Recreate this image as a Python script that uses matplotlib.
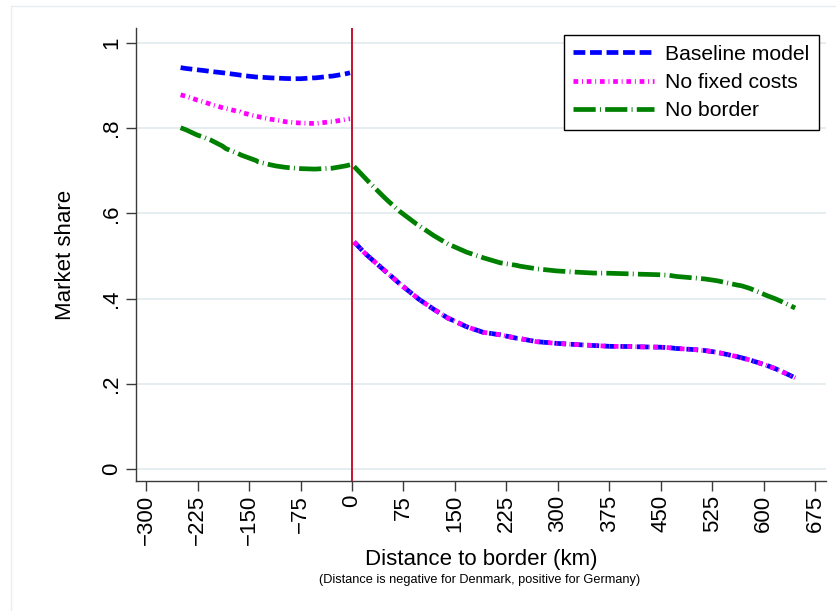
import matplotlib
matplotlib.use("Agg")
import matplotlib.pyplot as plt
from matplotlib.lines import Line2D
from matplotlib.ticker import FixedLocator, FixedFormatter

plt.rcParams['font.family'] = ['Liberation Sans', 'DejaVu Sans']

# Denmark side (negative distance)
dk_km = [-250, -242, -226, -215, -206, -189, -184, -163, -162, -140, -137,
         -119, -110, -97, -83, -75, -56, -53, -31, -29, -11, -8, -3]
dk_baseline = [0.942, 0.940, 0.937, 0.935, 0.933, 0.930, 0.929, 0.9245, 0.924,
               0.920, 0.920, 0.918, 0.9175, 0.9165, 0.916, 0.916, 0.918, 0.918,
               0.922, 0.922, 0.927, 0.928, 0.930]
dk_nofixed = [0.878, 0.875, 0.866, 0.861, 0.856, 0.848, 0.846, 0.838, 0.837,
              0.828, 0.827, 0.821, 0.819, 0.815, 0.813, 0.812, 0.811, 0.811,
              0.815, 0.815, 0.820, 0.821, 0.822]
dk_noborder = [0.801, 0.796, 0.784, 0.778, 0.772, 0.758, 0.752, 0.738, 0.737,
               0.724, 0.721, 0.714, 0.711, 0.708, 0.706, 0.705, 0.704, 0.704,
               0.706, 0.706, 0.711, 0.712, 0.714]

# Germany side (positive distance)
de_km = [3, 19, 26, 48, 54, 70, 94, 97, 119, 141, 143, 167, 191, 216, 240,
         245, 269, 298, 328, 352, 376, 407, 415, 449, 461, 473, 502, 515, 532,
         561, 568, 580, 605, 618, 629, 646]
de_baseline = [0.533, 0.506, 0.496, 0.465, 0.457, 0.434, 0.403, 0.399, 0.375,
               0.353, 0.352, 0.334, 0.321, 0.315, 0.307, 0.306, 0.299, 0.295,
               0.292, 0.290, 0.288, 0.2875, 0.287, 0.286, 0.285, 0.283, 0.280,
               0.278, 0.274, 0.264, 0.261, 0.256, 0.243, 0.235, 0.227, 0.214]
de_nofixed = list(de_baseline)
de_noborder = [0.710, 0.683, 0.671, 0.636, 0.627, 0.604, 0.575, 0.572, 0.548,
               0.527, 0.526, 0.509, 0.496, 0.484, 0.478, 0.476, 0.470, 0.465,
               0.462, 0.460, 0.4595, 0.458, 0.4575, 0.456, 0.455, 0.452, 0.448,
               0.446, 0.442, 0.432, 0.430, 0.424, 0.407, 0.399, 0.391, 0.378]

series_names = ["Baseline model", "No fixed costs", "No border"]
x_ticks = list(range(-300, 676, 75))
y_ticks = [0, 0.2, 0.4, 0.6, 0.8, 1.0]
y_tick_labels = ["0", ".2", ".4", ".6", ".8", "1"]

W, H = 836, 611
fig = plt.figure(figsize=(W / 100, H / 100), dpi=100)
fig.patch.set_facecolor("white")

# faint outer graph-region frame
frame_col = "#e6eef0"
fig.add_artist(Line2D([11 / W, 11 / W], [0, 1 - 6 / H], color=frame_col, lw=1.0))
fig.add_artist(Line2D([11 / W, 1], [1 - 6 / H, 1 - 6 / H], color=frame_col, lw=1.0))

ax = fig.add_axes([136 / W, (H - 481) / H, (826 - 136) / W, (481 - 28) / H])
ax.set_xlim(-315, 691)
ax.set_ylim(-0.028, 1.035)

for s in ("top", "right"):
    ax.spines[s].set_visible(False)
for s in ("left", "bottom"):
    ax.spines[s].set_color("#3a3a3a")
    ax.spines[s].set_linewidth(1.0)

# horizontal grid
for yv in y_ticks:
    ax.axhline(yv, color="#e4ecef", lw=1.3, zorder=0)

lw = 3.4
styles = {
    "Baseline model": dict(color="#0000ff", dashes=(2.5, 1.0)),
    "No fixed costs": dict(color="#ff00ff", dashes=(1.0, 0.8, 0.2, 0.8)),
    "No border": dict(color="#008000", dashes=(4.7, 0.9, 0.2, 0.9)),
}
left_data = {"Baseline model": dk_baseline, "No fixed costs": dk_nofixed,
             "No border": dk_noborder}
right_data = {"Baseline model": de_baseline, "No fixed costs": de_nofixed,
              "No border": de_noborder}

handles = []
for name in series_names:
    st = styles[name]
    h, = ax.plot(dk_km, left_data[name], color=st["color"], lw=lw,
                 dashes=st["dashes"], dash_capstyle="butt", solid_capstyle="butt",
                 label=name, zorder=3)
    ax.plot(de_km, right_data[name], color=st["color"], lw=lw,
            dashes=st["dashes"], dash_capstyle="butt", zorder=3)
    handles.append(h)

ax.axvline(0, color="#c8102e", lw=1.4, zorder=4)

ax.xaxis.set_major_locator(FixedLocator(x_ticks))
ax.yaxis.set_major_locator(FixedLocator(y_ticks))
ax.yaxis.set_major_formatter(FixedFormatter(y_tick_labels))
ax.tick_params(axis="both", direction="out", length=7, width=1.0,
               color="#3a3a3a", labelsize=16, pad=3)
ax.tick_params(axis="x", labelrotation=90)
ax.tick_params(axis="y", labelrotation=90)
for t in ax.get_yticklabels():
    t.set_va("center")

ax.set_xlabel("Distance to border (km)", fontsize=16, labelpad=3)
ax.set_ylabel("Market share", fontsize=16, labelpad=18)

fig.text(480 / W, 1 - 580 / H,
         "(Distance is negative for Denmark, positive for Germany)",
         ha="center", va="center", fontsize=9.2)

leg = ax.legend(handles=handles, loc="upper right",
                bbox_to_anchor=((819 - 136) / 690, (481 - 35) / 453),
                fontsize=15.2, handlelength=3.8, handletextpad=0.55,
                labelspacing=0.45, borderpad=0.45, fancybox=False,
                framealpha=1, edgecolor="black", borderaxespad=0)
leg.get_frame().set_linewidth(1.0)

fig.savefig("out.png", dpi=100, facecolor="white")
